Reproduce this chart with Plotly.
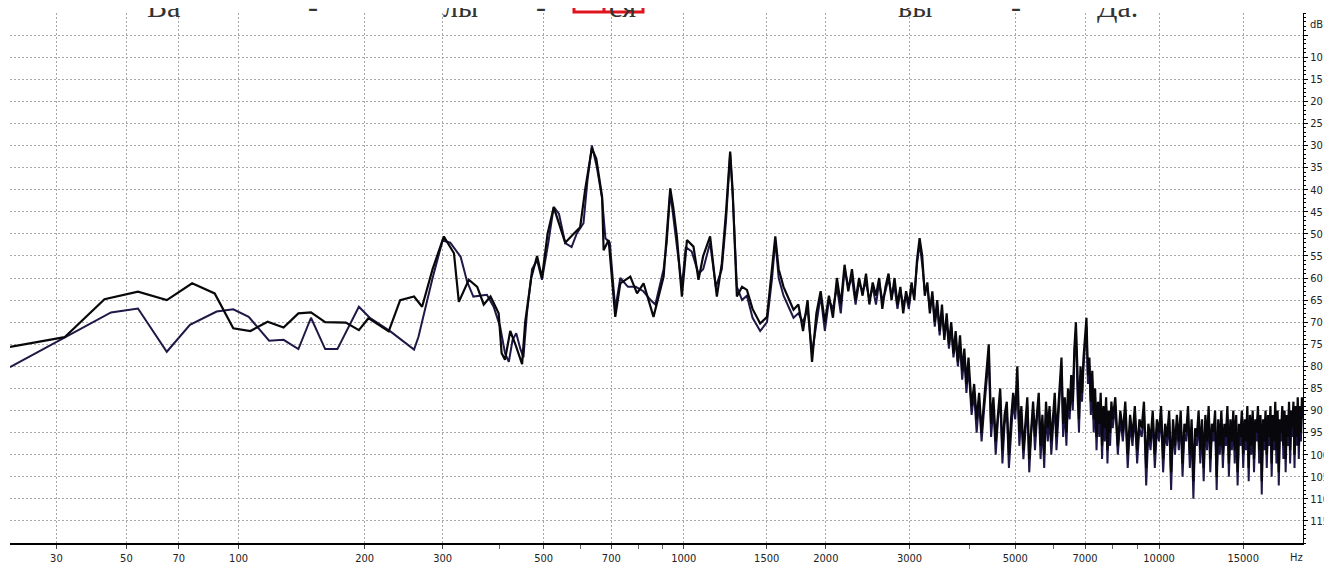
import numpy as np
import plotly.graph_objects as go

# frequency axis of the analyser: log10(f + 20)
def hz_axis(f):
    return np.log10(np.asarray(f, dtype=float) + 20.0)

tick_freqs = [30, 50, 70, 100, 200, 300, 500, 700, 1000, 1500, 2000, 3000, 5000, 7000, 10000, 15000]
minor_freqs = [400, 600, 800, 900, 4000, 6000, 8000, 9000]
db_grid = list(range(-5, -116, -5))
db_labels = [""] + [str(-v) for v in db_grid[1:]]

syllables = ["Ва", "-", "лы", "-", "ся", "вы", "-", "Да."]

# take 1 (black), read by hand, 20 - 1700 Hz
a_freq = [20, 32, 43, 54, 65, 76, 87, 97, 107, 118, 129, 140, 150, 162, 181, 194, 204, 227, 241, 259,
          270, 285, 302, 318, 326, 343, 358, 370, 383, 399, 405, 412, 423, 434, 449, 456, 470, 484, 496, 510,
          526, 535, 557, 581, 600, 615, 636, 650, 669, 674, 691, 714, 732, 769, 795, 821, 862, 906, 920, 936,
          950, 967, 991, 1016, 1049, 1075, 1100, 1138, 1176, 1205, 1230, 1255, 1270, 1297, 1330, 1362, 1400, 1453, 1502, 1540,
          1564, 1590, 1628, 1709]
a_db = [-75.6, -73.4, -64.8, -63.1, -65.0, -61.2, -63.5, -71.4, -72.0, -69.9, -71.2, -68.0, -67.8, -70.0, -70.1, -71.8, -69.1, -72.1, -65.0, -64.2,
        -66.5, -58.0, -50.6, -54.4, -65.4, -60.4, -62.0, -66.0, -64.2, -68.0, -77.0, -78.5, -72.0, -75.0, -79.5, -70.0, -60.0, -55.0, -60.0, -50.0,
        -44.0, -46.5, -52.0, -50.0, -48.5, -40.0, -30.6, -33.0, -41.6, -53.7, -51.4, -68.8, -61.2, -59.7, -63.5, -61.2, -68.8, -59.7, -50.0, -39.7,
        -44.0, -50.6, -64.2, -51.4, -52.9, -60.4, -55.0, -50.6, -64.2, -56.7, -45.0, -31.4, -40.0, -64.2, -62.0, -62.7, -67.0, -70.3, -68.8, -58.0,
        -50.6, -58.0, -62.0, -67.2]

# take 2 (purple), read by hand, 20 - 1700 Hz
b_freq = [20, 32, 45, 54, 65, 75, 88, 97, 106, 119, 129, 140, 150, 162, 173, 194, 206, 229, 259, 265,
          285, 300, 312, 329, 340, 351, 365, 376, 389, 402, 412, 420, 428, 436, 445, 452, 460, 472, 484, 496,
          512, 526, 540, 557, 575, 590, 610, 622, 636, 652, 669, 680, 695, 714, 732, 760, 790, 820, 850, 870,
          906, 920, 936, 952, 967, 991, 1010, 1040, 1075, 1100, 1138, 1170, 1205, 1230, 1255, 1272, 1297, 1330, 1362, 1400,
          1453, 1502, 1540, 1564, 1590, 1628, 1709]
b_db = [-80.2, -73.4, -67.8, -66.9, -76.7, -70.6, -67.6, -67.1, -68.8, -74.2, -74.0, -76.1, -69.0, -76.1, -76.1, -66.5, -69.1, -72.1, -76.2, -73.3,
        -60.0, -51.5, -52.0, -55.2, -60.8, -64.2, -64.0, -63.8, -66.5, -71.0, -77.0, -79.0, -74.0, -72.5, -76.0, -78.0, -68.0, -58.0, -56.0, -60.4,
        -52.0, -43.9, -45.5, -52.1, -53.0, -49.9, -47.6, -38.0, -30.0, -35.0, -42.0, -51.0, -52.0, -67.0, -60.0, -62.0, -62.0, -63.0, -65.0, -66.0,
        -58.0, -52.0, -40.5, -47.0, -52.0, -62.0, -53.0, -54.0, -59.0, -58.0, -52.0, -62.0, -58.0, -47.0, -31.8, -42.0, -62.0, -65.0, -64.0, -69.0,
        -72.0, -70.0, -60.0, -51.5, -60.0, -64.0, -69.0]

# analyser bins above 1700 Hz
bins_mid = np.arange(1750, 4000, 40)     # 57 bins
bins_hi1 = np.arange(4000, 8000, 50)     # 80 bins
bins_hi2 = np.arange(8000, 20001, 100)   # 121 bins

a_mid = [-66, -72, -65, -79, -68, -63, -70, -64, -69, -60,
         -66, -57, -63, -58, -65, -60, -64, -59, -66, -61,
         -64, -60, -67, -62, -59, -65, -60, -66, -62, -68,
         -63, -66, -61, -65, -56, -51, -55, -64, -61, -68,
         -63, -70, -65, -72, -66, -74, -68, -75, -70, -77,
         -72, -79, -73, -81, -76, -84, -78]
b_mid = [-68, -70, -67, -77, -70, -64, -72, -65, -67, -62,
         -68, -58, -62, -60, -66, -61, -63, -61, -65, -62,
         -66, -61, -65, -63, -60, -64, -62, -67, -63, -66,
         -64, -67, -62, -64, -57, -52, -57, -63, -62, -67,
         -64, -71, -66, -73, -68, -73, -70, -76, -71, -78,
         -74, -80, -75, -83, -78, -86, -80]

a_hi1 = [-80, -89, -84, -92, -86, -95, -88, -82, -75, -93,
         -87, -97, -90, -85, -99, -91, -88, -100, -92, -86,
         -90, -80, -95, -89, -99, -92, -87, -101, -93, -88,
         -96, -90, -86, -98, -91, -100, -88, -94, -89, -97,
         -91, -86, -96, -89, -84, -78, -93, -87, -95, -85,
         -90, -82, -88, -76, -70, -84, -92, -80, -86, -78,
         -74, -69, -82, -78, -88, -81, -92, -85, -96, -88,
         -93, -86, -98, -89, -94, -87, -99, -90, -95, -88]
b_hi1 = [-82, -91, -86, -95, -88, -97, -90, -84, -78, -96,
         -89, -100, -92, -87, -102, -93, -90, -103, -94, -88,
         -92, -83, -98, -91, -101, -94, -89, -104, -95, -90,
         -99, -92, -88, -101, -93, -103, -90, -97, -91, -100,
         -93, -88, -99, -91, -86, -80, -96, -89, -98, -87,
         -92, -84, -90, -78, -72, -86, -95, -82, -88, -80,
         -76, -71, -84, -80, -91, -83, -95, -87, -99, -90,
         -96, -88, -101, -91, -97, -89, -102, -92, -98, -90]

a_hi2 = [-92, -87, -98, -90, -95, -88, -100, -91, -96, -89,
         -99, -92, -94, -88, -103, -93, -97, -90, -100, -92,
         -95, -89, -101, -93, -96, -90, -104, -92, -98, -91,
         -97, -90, -102, -93, -95, -89, -100, -92, -106, -94,
         -96, -90, -99, -92, -103, -91, -97, -89, -101, -93,
         -95, -90, -105, -92, -98, -90, -100, -93, -96, -89,
         -102, -92, -97, -90, -99, -91, -104, -93, -96, -90,
         -100, -92, -97, -89, -103, -91, -98, -90, -101, -92,
         -95, -89, -99, -91, -106, -92, -97, -90, -100, -91,
         -96, -89, -102, -91, -97, -88, -99, -90, -104, -92,
         -95, -89, -98, -90, -101, -91, -96, -88, -99, -90,
         -94, -88, -100, -89, -96, -87, -98, -89, -95, -87,
         -90]
b_hi2 = [-94, -89, -100, -92, -97, -90, -103, -93, -98, -91,
         -102, -94, -96, -90, -107, -95, -99, -92, -103, -94,
         -97, -91, -104, -95, -98, -92, -108, -94, -100, -93,
         -99, -92, -105, -95, -97, -91, -103, -94, -110, -96,
         -98, -92, -102, -94, -106, -93, -99, -91, -104, -95,
         -97, -92, -108, -94, -100, -92, -103, -95, -98, -91,
         -105, -94, -99, -92, -102, -93, -107, -95, -98, -92,
         -103, -94, -99, -91, -106, -93, -100, -92, -104, -94,
         -97, -91, -102, -93, -109, -94, -99, -92, -103, -93,
         -98, -91, -105, -93, -99, -90, -102, -92, -107, -94,
         -97, -91, -101, -92, -104, -93, -98, -90, -102, -92,
         -96, -90, -103, -91, -98, -89, -101, -91, -97, -89,
         -92]

take1_f = np.concatenate([a_freq, bins_mid, bins_hi1, bins_hi2])
take1_db = np.concatenate([a_db, a_mid, a_hi1, a_hi2])
take2_f = np.concatenate([b_freq, bins_mid, bins_hi1, bins_hi2])
take2_db = np.concatenate([b_db, b_mid, b_hi1, b_hi2])

# the page body puts the figure 8 px in from the window corner
OFF = 8
W, H = 1332 - OFF, 566 - OFF
L, T = 10 - OFF, 13 - OFF
R = W - (1303 - OFF)
B = H - (543 - OFF)

def px(xw):
    # window x -> paper x
    return (xw - OFF - L) / (W - L - R)

def py(yw):
    # window y -> paper y
    return (H - B - (yw - OFF)) / (H - T - B)

fig = go.Figure()
fig.add_trace(go.Scatter(x=hz_axis(take2_f), y=take2_db, mode='lines',
                         line=dict(color='#1f1746', width=2), name='take 2'))
fig.add_trace(go.Scatter(x=hz_axis(take1_f), y=take1_db, mode='lines',
                         line=dict(color='#08080c', width=2.2), name='take 1'))

tick_font = dict(family='DejaVu Sans Condensed, Liberation Sans Narrow, sans-serif', size=11, color='#222')

fig.update_xaxes(
    range=[hz_axis(20), hz_axis(20000)],
    tickvals=hz_axis(tick_freqs), ticktext=[str(f) for f in tick_freqs],
    showgrid=True, gridcolor='#a8a8a8', griddash='2px,2px', gridwidth=1,
    showline=True, linecolor='black', linewidth=2,
    ticks='outside', ticklen=4, tickcolor='#444',
    minor=dict(tickmode='array', tickvals=hz_axis(minor_freqs), ticks='outside', ticklen=4, tickcolor='#666', showgrid=False),
    tickfont=tick_font, zeroline=False, automargin=False, ticklabeloverflow='allow',
)
fig.update_yaxes(
    range=[-120, 0], side='right',
    tickvals=db_grid, ticktext=db_labels,
    showgrid=True, gridcolor='#a8a8a8', griddash='2px,2px', gridwidth=1,
    showline=True, linecolor='black', linewidth=1,
    ticks='outside', ticklen=4, tickcolor='black',
    minor=dict(dtick=1, ticks='outside', ticklen=2, tickcolor='black', showgrid=False),
    tickfont=tick_font, zeroline=False, automargin=False, ticklabeloverflow='allow',
)

annotations = [
    dict(x=1, y=-2.6, xref='paper', yref='y', xanchor='left', yanchor='middle', xshift=5,
         text='dB', showarrow=False, font=tick_font),
    dict(x=px(1296), y=-0.005, xref='paper', yref='paper', xanchor='center', yanchor='top', yshift=-3,
         text='Hz', showarrow=False, font=tick_font),
]
word_x = [163, 313, 460, 541, 622, 915, 1016, 1117]
for w, xw in zip(syllables, word_x):
    annotations.append(dict(x=px(xw), y=1, xref='paper', yref='paper', xanchor='center', yanchor='middle',
                            yshift=7, text=w, showarrow=False,
                            font=dict(family='Liberation Serif, Times New Roman, serif', size=30, color='#333')))

shapes = [
    dict(type='rect', xref='paper', yref='paper', x0=px(574), x1=px(643), y0=py(12), y1=py(-12),
         line=dict(color='#e0141e', width=3)),
    dict(type='line', xref='paper', yref='paper', x0=px(604), x1=px(604), y0=py(12), y1=py(-12),
         line=dict(color='#e0141e', width=3)),
]

fig.update_layout(
    width=W, height=H,
    margin=dict(l=L, r=R, t=T, b=B),
    paper_bgcolor='white', plot_bgcolor='white',
    showlegend=False,
    annotations=annotations, shapes=shapes,
)

fig.write_html("out.html")
